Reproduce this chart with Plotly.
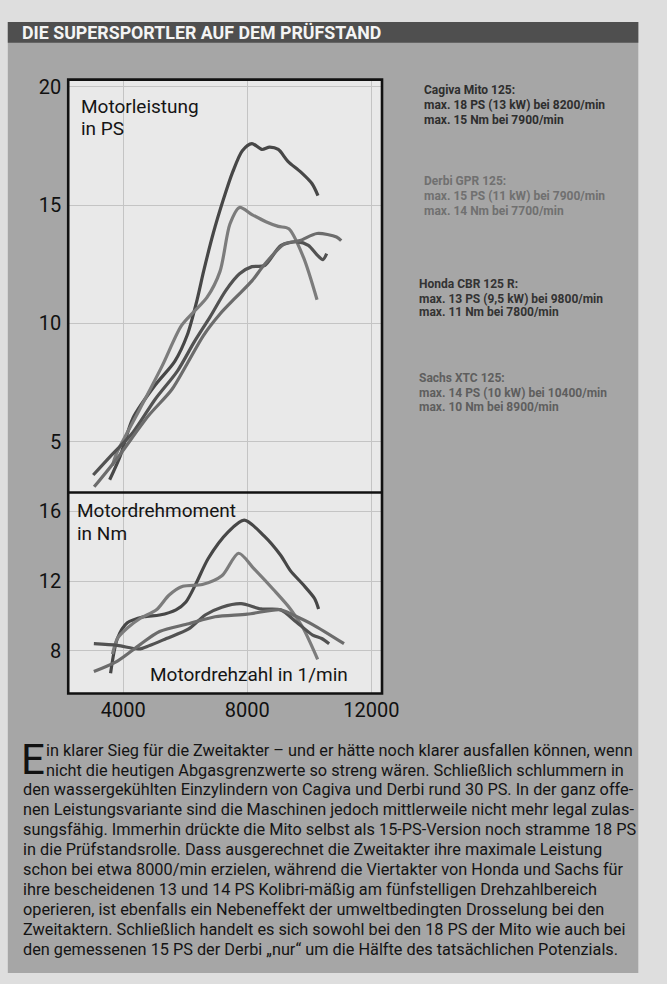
import plotly.graph_objects as go

W, H = 667, 984

# ---------------- data ----------------
bikes = ["Cagiva Mito 125", "Derbi GPR 125", "Honda CBR 125 R", "Sachs XTC 125"]

cagiva_ps_rpm = [3560, 3900, 4310, 5030, 5660, 6060, 6380, 6590, 6900, 7220, 7530, 7840, 8150, 8470, 8720, 9000, 9310, 9720, 10090, 10280]
cagiva_ps = [3.4, 4.4, 6.0, 7.4, 8.4, 9.5, 11.0, 12.2, 13.8, 15.2, 16.4, 17.3, 17.6, 17.35, 17.45, 17.35, 16.85, 16.4, 15.9, 15.4]

derbi_ps_rpm = [3650, 3780, 4500, 5250, 5870, 6280, 6700, 7120, 7440, 7750, 8150, 8600, 9000, 9340, 9810, 10250]
derbi_ps = [4.0, 4.5, 6.3, 8.2, 9.9, 10.5, 11.1, 12.2, 14.2, 14.9, 14.6, 14.3, 14.1, 14.0, 12.8, 11.0]

honda_ps_rpm = [3030, 3590, 4310, 5030, 5750, 6280, 6810, 7310, 7750, 8150, 8560, 9090, 9620, 9970, 10250, 10440, 10560]
honda_ps = [3.6, 4.4, 5.4, 6.8, 8.0, 9.2, 10.3, 11.4, 12.1, 12.4, 12.45, 13.3, 13.45, 13.3, 12.9, 12.7, 12.95]

sachs_ps_rpm = [3060, 3800, 4810, 5560, 6060, 6590, 7120, 7630, 8150, 8560, 9190, 9700, 10250, 10880, 11030]
sachs_ps = [3.1, 4.3, 6.1, 7.2, 8.3, 9.5, 10.4, 11.1, 11.8, 12.5, 13.35, 13.5, 13.8, 13.65, 13.5]

cagiva_nm_rpm = [3590, 3810, 4130, 4660, 5170, 5700, 6020, 6330, 6740, 7370, 7900, 8540, 9070, 9390, 9800, 10170, 10300]
cagiva_nm = [6.7, 8.7, 9.6, 9.95, 10.05, 10.35, 10.8, 11.8, 13.3, 14.8, 15.5, 14.6, 13.5, 12.6, 11.8, 11.0, 10.4]

derbi_nm_rpm = [3650, 3810, 4130, 4540, 5070, 5480, 5920, 6550, 7180, 7720, 8220, 8850, 9390, 9800, 10270]
derbi_nm = [7.8, 8.7, 9.3, 9.85, 10.35, 11.2, 11.7, 11.8, 12.3, 13.6, 12.7, 11.5, 10.4, 9.3, 7.5]

honda_nm_rpm = [3050, 3810, 4500, 4850, 5390, 6110, 6640, 7180, 7800, 8440, 9070, 9580, 10110, 10400, 10640]
honda_nm = [8.4, 8.3, 8.1, 8.3, 8.7, 9.25, 10.05, 10.5, 10.7, 10.4, 10.35, 9.65, 8.9, 8.7, 8.4]

sachs_nm_rpm = [3050, 3810, 4540, 5170, 6110, 6960, 8000, 9070, 9480, 10110, 11120]
sachs_nm = [6.8, 7.4, 8.35, 9.1, 9.55, 9.95, 10.1, 10.35, 10.05, 9.5, 8.4]

x_ticks = [4000, 8000, 12000]
ps_ticks = [5, 10, 15, 20]
nm_ticks = [8, 12, 16]

legend_lines = [
    ["Cagiva Mito 125:", "max. 18 PS (13 kW) bei 8200/min", "max. 15 Nm bei 7900/min"],
    ["Derbi GPR 125:", "max. 15 PS (11 kW) bei 7900/min", "max. 14 Nm bei 7700/min"],
    ["Honda CBR 125 R:", "max. 13 PS (9,5 kW) bei 9800/min", "max. 11 Nm bei 7800/min"],
    ["Sachs XTC 125:", "max. 14 PS (10 kW) bei 10400/min", "max. 10 Nm bei 8900/min"],
]

body_lines = [
    "in klarer Sieg für die Zweitakter – und er hätte noch klarer ausfallen können, wenn",
    "nicht die heutigen Abgasgrenzwerte so streng wären. Schließlich schlummern in",
    "den wassergekühlten Einzylindern von Cagiva und Derbi rund 30 PS. In der ganz offe-",
    "nen Leistungsvariante sind die Maschinen jedoch mittlerweile nicht mehr legal zulas-",
    "sungsfähig. Immerhin drückte die Mito selbst als 15-PS-Version noch stramme 18 PS",
    "in die Prüfstandsrolle. Dass ausgerechnet die Zweitakter ihre maximale Leistung",
    "schon bei etwa 8000/min erzielen, während die Viertakter von Honda und Sachs für",
    "ihre bescheidenen 13 und 14 PS Kolibri-mäßig am fünfstelligen Drehzahlbereich",
    "operieren, ist ebenfalls ein Nebeneffekt der umweltbedingten Drosselung bei den",
    "Zweitaktern. Schließlich handelt es sich sowohl bei den 18 PS der Mito wie auch bei",
    "den gemessenen 15 PS der Derbi „nur“ um die Hälfte des tatsächlichen Potenzials.",
]

# ---------------- styling ----------------
FONT = "Roboto, Liberation Sans, Arial, sans-serif"
line_colors = ["#474747", "#7c7c7c", "#525252", "#6c6c6c"]
legend_colors = ["#2e2e2e", "#707070", "#333333", "#5e5e5e"]


def px(x):
    return x / W


def py(y):
    return 1 - y / H


L, R, T, MID, B = 70, 392, 75, 490, 692

fig = go.Figure()

ps_sets = [(cagiva_ps_rpm, cagiva_ps), (derbi_ps_rpm, derbi_ps), (honda_ps_rpm, honda_ps), (sachs_ps_rpm, sachs_ps)]
nm_sets = [(cagiva_nm_rpm, cagiva_nm), (derbi_nm_rpm, derbi_nm), (honda_nm_rpm, honda_nm), (sachs_nm_rpm, sachs_nm)]

for i, (xs, ys) in enumerate(ps_sets):
    fig.add_trace(go.Scatter(x=xs, y=ys, mode="lines", name=bikes[i], xaxis="x2", yaxis="y",
                             line=dict(color=line_colors[i], width=3.2, shape="spline", smoothing=0.8),
                             showlegend=False, hoverinfo="skip"))
for i, (xs, ys) in enumerate(nm_sets):
    fig.add_trace(go.Scatter(x=xs, y=ys, mode="lines", name=bikes[i], xaxis="x", yaxis="y2",
                             line=dict(color=line_colors[i], width=3.2, shape="spline", smoothing=0.8),
                             showlegend=False, hoverinfo="skip"))

shapes = []
shapes.append(dict(type="rect", xref="paper", yref="paper", x0=px(8), x1=px(655), y0=py(973), y1=py(17),
                   fillcolor="#a6a6a6", line=dict(width=0), layer="below"))
shapes.append(dict(type="rect", xref="paper", yref="paper", x0=px(8), x1=px(655), y0=py(38), y1=py(17),
                   fillcolor="#4f4f4f", line=dict(width=0), layer="below"))
shapes.append(dict(type="rect", xref="paper", yref="paper", x0=px(L), x1=px(R), y0=py(B), y1=py(T),
                   fillcolor="#e9e9e9", line=dict(width=0), layer="below"))
shapes.append(dict(type="rect", xref="paper", yref="paper", x0=px(L), x1=px(R), y0=py(B), y1=py(T),
                   line=dict(color="#111111", width=2.6), layer="above"))
shapes.append(dict(type="line", xref="paper", yref="paper", x0=px(L), x1=px(R), y0=py(MID), y1=py(MID),
                   line=dict(color="#111111", width=2.6), layer="above"))

ann = []
ann.append(dict(x=px(21), y=py(28), xref="paper", yref="paper", xanchor="left", yanchor="middle",
                text="<b>DIE SUPERSPORTLER AUF DEM PRÜFSTAND</b>", showarrow=False,
                font=dict(family=FONT, size=17.8, color="#f4f4f4")))
for txt, y in [("Motorleistung", 102), ("in PS", 124)]:
    ann.append(dict(x=px(81), y=py(y), xref="paper", yref="paper", xanchor="left", yanchor="middle",
                    text=txt, showarrow=False, font=dict(family=FONT, size=19, color="#151515")))
for txt, y in [("Motordrehmoment", 508), ("in Nm", 531)]:
    ann.append(dict(x=px(77), y=py(y), xref="paper", yref="paper", xanchor="left", yanchor="middle",
                    text=txt, showarrow=False, font=dict(family=FONT, size=19, color="#151515")))
ann.append(dict(x=px(152), y=py(673), xref="paper", yref="paper", xanchor="left", yanchor="middle",
                text="Motordrehzahl in 1/min", showarrow=False, font=dict(family=FONT, size=19, color="#151515")))

leg_pos = [(433, [85, 101, 116]), (433, [177, 192, 207]), (428, [280, 295, 309]), (428, [375, 390, 404])]
for i, block in enumerate(legend_lines):
    x0, ys = leg_pos[i]
    for txt, y in zip(block, ys):
        ann.append(dict(x=px(x0), y=py(y), xref="paper", yref="paper", xanchor="left", yanchor="middle",
                        text="<b>" + txt + "</b>", showarrow=False,
                        font=dict(family=FONT, size=12, color=legend_colors[i])))

ann.append(dict(x=px(20), y=py(758), xref="paper", yref="paper", xanchor="left", yanchor="middle",
                text="E", showarrow=False, font=dict(family=FONT, size=42, color="#111111")))
for k, txt in enumerate(body_lines):
    x0 = 45 if k < 2 else 22
    ann.append(dict(x=px(x0), y=py(749 + 20 * k), xref="paper", yref="paper", xanchor="left", yanchor="middle",
                    text=txt, showarrow=False, font=dict(family=FONT, size=16.3, color="#141414")))

grid = "#c4c4c4"
tickfont = dict(family=FONT, size=20, color="#111111")
fig.update_layout(
    width=W, height=H,
    margin=dict(l=0, r=0, t=0, b=0),
    paper_bgcolor="#dedede",
    plot_bgcolor="rgba(0,0,0,0)",
    shapes=shapes,
    annotations=ann,
    xaxis=dict(domain=[px(L), px(R)], range=[2223, 12346], anchor="y2", tickvals=x_ticks,
               ticktext=[str(v) for v in x_ticks], showgrid=True, gridcolor=grid, gridwidth=1,
               zeroline=False, showline=False, ticks="", ticklabelstandoff=3, tickfont=tickfont),
    xaxis2=dict(domain=[px(L), px(R)], range=[2223, 12346], anchor="y", matches="x", tickvals=x_ticks,
                showticklabels=False, showgrid=True, gridcolor=grid, gridwidth=1, zeroline=False, ticks=""),
    yaxis=dict(domain=[py(MID), py(T)], range=[2.86, 20.3], anchor="x2", tickvals=ps_ticks,
               showgrid=True, gridcolor=grid, gridwidth=1, zeroline=False, ticks="", ticklabelstandoff=6,
               tickfont=tickfont),
    yaxis2=dict(domain=[py(B), py(MID)], range=[5.54, 17.09], anchor="x", tickvals=nm_ticks,
                showgrid=True, gridcolor=grid, gridwidth=1, zeroline=False, ticks="", ticklabelstandoff=6,
                tickfont=tickfont),
)

fig.write_html("out.html", config={"displayModeBar": False},
               post_script="document.body.style.margin='0px';")
